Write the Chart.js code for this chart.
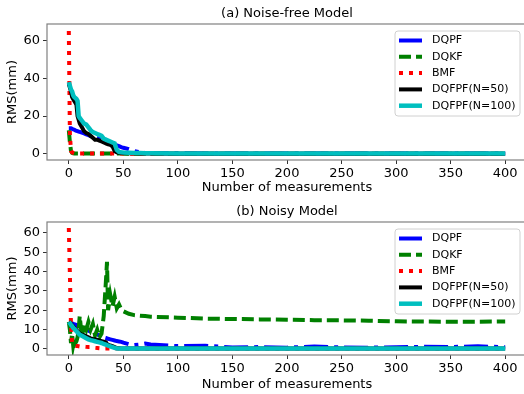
<!DOCTYPE html>
<html>
<head>
<meta charset="utf-8">
<script src="https://cdn.jsdelivr.net/npm/chart.js@4/dist/chart.umd.min.js"></script>
<style>
  html, body { margin: 0; padding: 0; background: #fff; overflow: hidden; width: 524px; height: 394px; }
  canvas { position: absolute; left: 0; }
  #top { top: 0; }
  #bottom { top: 197px; }
</style>
</head>
<body>
<canvas id="top" width="530" height="197"></canvas>
<canvas id="bottom" width="530" height="197"></canvas>
<script>
// measurement index (shared by every series)
const measurements = [0, 1, 2, 3, 4, 5, 6, 7, 8, 9, 10, 12, 14, 16, 18, 20, 22, 24, 26, 28, 30, 32, 34, 35,
    36, 38, 40, 42, 44, 46, 48, 50, 55, 60, 65, 70, 75, 100, 125, 150, 175, 200, 225, 250, 275, 300, 325, 350, 375, 400];

const xTicks = [0, 50, 100, 150, 200, 250, 300, 350, 400];
const yTicksTop = [0, 20, 40, 60];
const yTicksBottom = [0, 10, 20, 30, 40, 50, 60];

const labels = ['DQPF', 'DQKF', 'BMF', 'DQFPF(N=50)', 'DQFPF(N=100)'];

// (a) Noise-free Model
const freeDQPF = [13.5, 13.5, 13.5, 13.2, 13, 12.7, 12.4, 12.2, 12, 11.8, 11.6, 11.2, 10.8, 10.3, 9.9, 9.4, 9.0, 8.6, 8.4, 8.2, 7.9, 7.2, 6.7, 6.5,
    6.2, 5.7, 5.2, 4.9, 4.5, 4.1, 3.6, 3.2, 2.5, 1.5, 0.8, 0.5, 0.4, 0.3, 0.2, 0.2, 0.2, 0.2, 0.2, 0.2, 0.2, 0.2, 0.2, 0.2, 0.2, 0.2];
const freeDQKF = [12.5, 6, 1.5, 0.5, 0.3, 0.2, 0.2, 0.2, 0.2, 0.2, 0.2, 0.2, 0.2, 0.2, 0.2, 0.2, 0.2, 0.2, 0.2, 0.2, 0.2, 0.2, 0.2, 0.2,
    0.2, 0.2, 0.2, 0.2, 0.2, 0.2, 0.2, 0.1, 0.1, 0.1, 0.1, 0.1, 0.1, 0.1, 0.1, 0.1, 0.1, 0.1, 0.1, 0.1, 0.1, 0.1, 0.1, 0.1, 0.1, 0.1];
const freeBMF = [65, 10, 1.5, 0.8, 0.5, 0.3, 0.2, 0.2, 0.2, 0.2, 0.2, 0.2, 0.2, 0.2, 0.2, 0.2, 0.2, 0.2, 0.2, 0.2, 0.2, 0.2, 0.2, 0.2,
    0.2, 0.2, 0.2, 0.2, 0.2, 0.2, 0.2, 0.2, 0.1, 0.1, 0.1, 0.1, 0.1, 0.1, 0.1, 0.1, 0.1, 0.1, 0.1, 0.1, 0.1, 0.1, 0.1, 0.1, 0.1, 0.1];
const freeN50 = [37, 35, 33, 30, 29, 28, 27, 26, 20, 18, 16, 14, 12, 11, 10.5, 9.5, 8.5, 7.5, 7.5, 7, 6.5, 6, 5.5, 5.2,
    5, 4.8, 4, 1.5, 0.8, 0.6, 0.5, 0.4, 0.3, 0.3, 0.2, 0.2, 0.2, 0.1, 0.1, 0.1, 0.1, 0.1, 0.1, 0.1, 0.1, 0.1, 0.1, 0.1, 0.1, 0.1];
const freeN100 = [38, 36, 34, 33, 31, 30, 29.5, 29, 28, 20, 19, 17.5, 16, 15.5, 14, 12.5, 11.5, 11, 10.5, 10, 9.5, 8, 7.5, 7.2,
    7, 6.5, 6, 5.5, 2, 1, 0.8, 0.7, 0.6, 0.5, 0.4, 0.3, 0.3, 0.2, 0.2, 0.2, 0.2, 0.2, 0.2, 0.2, 0.2, 0.2, 0.2, 0.2, 0.2, 0.2];

// (b) Noisy Model
const noisyDQPF = [14, 13.8, 13.5, 13.3, 13, 12.8, 12.6, 12.4, 12.2, 12, 11.5, 11, 10.5, 10, 9.5, 9, 8.5, 8, 7.5, 7, 6.5, 6, 5.7, 5.5,
    5.3, 5, 4.7, 4.4, 4.1, 3.9, 3.7, 3.3, 2.5, 2, 2.3, 2.8, 2.3, 1.5, 1.7, 0.8, 1, 0.7, 1.3, 0.8, 0.7, 0.9, 1.1, 1, 1.4, 0.9];
const noisyDQKF = [14, 10, 3, 8, 2, 5, 3, 4, 6, 10, 17, 6, 13, 10, 14, 10, 13, 7, 10, 6, 8, 17, 35, 45,
    20, 28, 22, 27, 21, 23, 20.5, 19.5, 18.2, 17.5, 17.2, 17, 16.7, 16.2, 15.7, 15.5, 15.3, 15.1, 14.9, 14.8, 14.6, 14.3, 14.2, 14.1, 14.1, 14.2];
const noisyBMF = [62.5, 38, 12, 3, 2, 1.8, 1.6, 1.5, 1.5, 1.4, 1.3, 1.2, 1.2, 1.1, 1.0, 1.0, 0.8, 0.6, 0.5, 0.4, 0.3, 0.3, 0.3, 0.3,
    0.3, 0.3, 0.3, 0.2, 0.2, 0.2, 0.2, 0.2, 0.2, 0.2, 0.2, 0.2, 0.2, 0.2, 0.2, 0.2, 0.2, 0.2, 0.2, 0.2, 0.2, 0.2, 0.2, 0.2, 0.2, 0.2];
const noisyN50 = [14, 13.5, 13, 12.3, 11.7, 11, 10.4, 9.8, 9.2, 8.6, 8, 7.5, 7, 6.5, 6, 5.5, 5.2, 5, 4.7, 4.4, 4.1, 3.8, 3.5, 2.5,
    2.2, 1.8, 1.5, 1, 0.5, 0.4, 0.3, 0.3, 0.3, 0.3, 0.3, 0.3, 0.3, 0.3, 0.3, 0.3, 0.3, 0.3, 0.3, 0.3, 0.3, 0.3, 0.3, 0.3, 0.3, 0.3];
const noisyN100 = [14, 13.3, 12.5, 11.8, 11, 10.4, 9.8, 9.2, 8.6, 8, 7.4, 6.8, 6.2, 5.6, 5, 4.6, 4.3, 4, 3.7, 3.4, 3.1, 2.6, 2.2, 2,
    1.8, 1.4, 1, 0.6, 0.3, 0.3, 0.3, 0.3, 0.3, 0.3, 0.3, 0.3, 0.3, 0.3, 0.3, 0.3, 0.3, 0.3, 0.3, 0.3, 0.3, 0.3, 0.3, 0.3, 0.3, 0.3];

const FONT = 'DejaVu Sans';

const STYLES = [
    { color: '#0000ff', dash: [24, 6, 4, 6], width: 4 },
    { color: '#008000', dash: [12, 5], width: 4 },
    { color: '#ff0000', dash: [4, 6], width: 4 },
    { color: '#000000', dash: [], width: 4 },
    { color: '#00bfbf', dash: [], width: 4.5 }
];

const toPoints = values => values.map((v, i) => ({ x: measurements[i], y: v }));

const frameLegendTitle = {
    id: 'frameLegendTitle',
    afterDraw(chart) {
        const ctx = chart.ctx;
        const a = chart.chartArea;
        const opts = chart.options.plugins.frameLegendTitle;
        ctx.save();
        // axes frame
        ctx.strokeStyle = '#808080';
        ctx.lineWidth = 1.2;
        ctx.setLineDash([]);
        ctx.strokeRect(a.left, a.top, a.right - a.left, a.bottom - a.top);
        // title
        ctx.fillStyle = '#000';
        ctx.font = '13px "' + FONT + '"';
        ctx.textAlign = 'center';
        ctx.textBaseline = 'middle';
        ctx.fillText(opts.title, (a.left + a.right) / 2, a.top - 10);
        // legend box
        const bx = 395, by = a.top + 7, bw = 125, bh = 85, r = 3;
        ctx.beginPath();
        ctx.moveTo(bx + r, by);
        ctx.arcTo(bx + bw, by, bx + bw, by + bh, r);
        ctx.arcTo(bx + bw, by + bh, bx, by + bh, r);
        ctx.arcTo(bx, by + bh, bx, by, r);
        ctx.arcTo(bx, by, bx + bw, by, r);
        ctx.closePath();
        ctx.fillStyle = 'rgba(255,255,255,0.8)';
        ctx.fill();
        ctx.strokeStyle = '#d0d0d0';
        ctx.lineWidth = 1;
        ctx.stroke();
        ctx.font = '11px "' + FONT + '"';
        ctx.textAlign = 'left';
        chart.data.datasets.forEach((ds, i) => {
            const y = by + 9.5 + i * 16.3;
            ctx.beginPath();
            ctx.setLineDash(ds.borderDash);
            ctx.strokeStyle = ds.borderColor;
            ctx.lineWidth = ds.borderWidth;
            ctx.lineCap = 'butt';
            ctx.moveTo(399, y);
            ctx.lineTo(422, y);
            ctx.stroke();
            ctx.setLineDash([]);
            ctx.fillStyle = '#000';
            ctx.fillText(ds.label, 432, y);
        });
        ctx.restore();
    }
};

const createRmsChart = (canvasId, title, series, yTicks, yMin, yMax, padTop, xHeight) => {
    const ctx = document.getElementById(canvasId);
    if (!ctx) return null;

    const datasets = series.map((values, i) => ({
        label: labels[i],
        data: toPoints(values),
        borderColor: STYLES[i].color,
        borderDash: STYLES[i].dash,
        borderWidth: STYLES[i].width,
        borderCapStyle: 'butt',
        pointRadius: 0,
        tension: 0,
        fill: false,
        order: series.length - i
    }));

    return new Chart(ctx, {
        type: 'line',
        data: { datasets },
        plugins: [frameLegendTitle],
        options: {
            responsive: false,
            animation: false,
            layout: { padding: { top: padTop, right: 3, bottom: 0, left: 0 } },
            plugins: {
                legend: { display: false },
                tooltip: { enabled: false },
                frameLegendTitle: { title }
            },
            scales: {
                x: {
                    type: 'linear',
                    min: -20,
                    max: 420,
                    afterBuildTicks: s => { s.ticks = xTicks.map(v => ({ value: v })); },
                    afterFit: s => { s.height = xHeight; },
                    border: { display: false },
                    grid: { drawOnChartArea: false, drawTicks: true, tickLength: 4, color: '#333', lineWidth: 1 },
                    ticks: { color: '#000', font: { family: FONT, size: 13 }, padding: 2, maxRotation: 0 },
                    title: { display: true, text: 'Number of measurements', color: '#000', font: { family: FONT, size: 13 }, padding: { top: 0, bottom: 1.5 } }
                },
                y: {
                    min: yMin,
                    max: yMax,
                    afterBuildTicks: s => { s.ticks = yTicks.map(v => ({ value: v })); },
                    afterFit: s => { s.width = 47; },
                    border: { display: false },
                    grid: { drawOnChartArea: false, drawTicks: true, tickLength: 4, color: '#333', lineWidth: 1 },
                    ticks: { color: '#000', font: { family: FONT, size: 13 }, padding: 3 },
                    title: { display: true, text: 'RMS(mm)', color: '#000', font: { family: FONT, size: 13 }, padding: { top: 5, bottom: 0 } }
                }
            }
        }
    });
};

createRmsChart('top', '(a) Noise-free Model',
    [freeDQPF, freeDQKF, freeBMF, freeN50, freeN100], yTicksTop, -3.27, 68.7, 24, 37);
createRmsChart('bottom', '(b) Noisy Model',
    [noisyDQPF, noisyDQKF, noisyBMF, noisyN50, noisyN100], yTicksBottom, -3.1, 65.6, 25, 39);
</script>
</body>
</html>
